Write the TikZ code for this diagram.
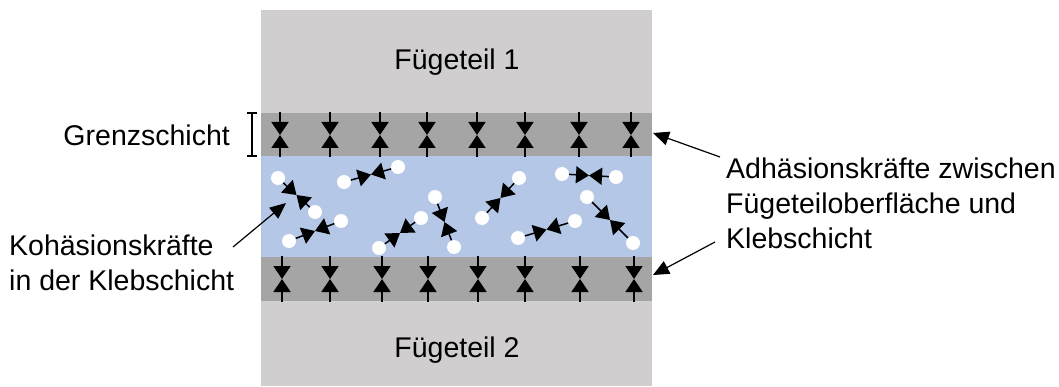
\documentclass[tikz,border=0pt]{standalone}
\usepackage{fontspec}
\setmainfont{Liberation Sans}
\usetikzlibrary{arrows.meta,calc}
\definecolor{lgray}{HTML}{D0CECE}
\definecolor{dgray}{HTML}{A5A5A5}
\definecolor{lblue}{HTML}{B4C7E7}
\tikzset{
  lbl/.style={font=\fontsize{28.5}{35}\selectfont, inner sep=0pt, align=left},
  force/.style={line width=1.5pt, -{Triangle[width=17pt,length=13pt]}},
  mol/.style={circle, fill=white, minimum size=14pt, inner sep=0pt},
  lead/.style={line width=1.2pt, -{Triangle[width=14pt,length=16pt]}},
}
\begin{document}
\begin{tikzpicture}[x=1pt,y=-1pt]
\useasboundingbox (0,0) rectangle (1059,387);
% layers
\fill[lgray] (261,10) rectangle (652,386);
\fill[dgray] (261,113) rectangle (652,156);
\fill[lblue] (261,156) rectangle (652,257);
\fill[dgray] (261,257) rectangle (652,301);
\node[lbl] (f1) at (457,62) {Fügeteil 1};
\node[lbl] (f2) at (457,350) {Fügeteil 2};
% boundary forces
\foreach \x [count=\i] in {280,330,380,427,477,525,579,631} {
  \coordinate (ta\i) at (\x,112);
  \coordinate (tm\i) at (\x,135);
  \coordinate (tb\i) at (\x,157);
  \draw[force] (ta\i) -- (tm\i);
  \draw[force] (tb\i) -- (tm\i);
}
\foreach \x [count=\i] in {282,330,382,428,478,525,580,634} {
  \coordinate (ba\i) at (\x,256);
  \coordinate (bm\i) at (\x,279);
  \coordinate (bb\i) at (\x,302);
  \draw[force] (ba\i) -- (bm\i);
  \draw[force] (bb\i) -- (bm\i);
}
% Grenzschicht bracket
\coordinate (gt) at (252,113);
\coordinate (gb) at (252,156);
\draw[line width=1.2pt] (gt) -- (gb);
\draw[line width=1.2pt] ($(gt)+(-5,0)$) -- ($(gt)+(5,0)$);
\draw[line width=1.2pt] ($(gb)+(-5,0)$) -- ($(gb)+(5,0)$);
\node[lbl, anchor=east] (gs) at (230,135) {Grenzschicht};
% molecules
\foreach \ax/\ay/\bx/\by [count=\i] in {
  278/178/315/212, 344/182/398/167, 289/241/341/221,
  435/197/454/247, 379/248/421/218, 482/218/519/178,
  562/174/616/177, 587/197/633/243, 518/238/575/221} {
  \node[mol] (ma\i) at (\ax,\ay) {};
  \node[mol] (mb\i) at (\bx,\by) {};
  \coordinate (mm\i) at ($(ma\i)!0.5!(mb\i)$);
  \draw[force] (ma\i) -- (mm\i);
  \draw[force] (mb\i) -- (mm\i);
}
% labels
\node[lbl, anchor=west] (koh) at (9,263) {Kohäsionskräfte\\in der Klebschicht};
\coordinate (kohs) at (233,247);
\coordinate (koht) at (286,203);
\draw[lead] (kohs) -- (koht);
\node[lbl, anchor=west] (adh) at (726,203) {Adhäsionskräfte zwischen\\Fügeteiloberfläche und\\Klebschicht};
\coordinate (adh1) at (720,157);
\coordinate (adh1t) at (653,133);
\coordinate (adh2) at (715,242);
\coordinate (adh2t) at (653,275);
\draw[lead] (adh1) -- (adh1t);
\draw[lead] (adh2) -- (adh2t);
\end{tikzpicture}
\end{document}
